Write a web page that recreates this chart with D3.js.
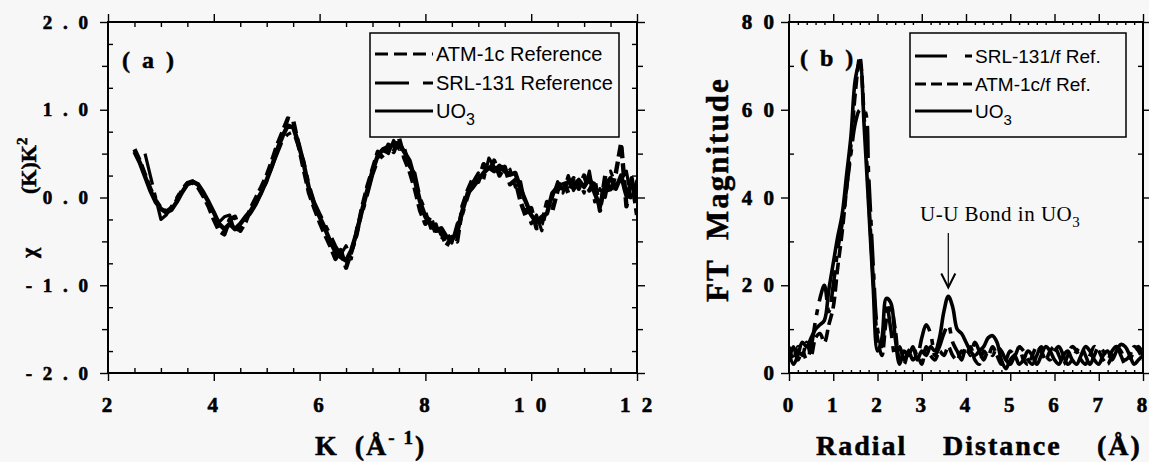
<!DOCTYPE html>
<html>
    <head>
        <title>EXAFS UO3</title>
        <meta charset="utf-8">
        <style>
            html, body {
                margin: 0px;
                padding: 0px;
                background-color: #f7f7f7;
            }

            svg {
                display: block;
            }

            .tick line {
                stroke: #000;
                stroke-width: 1.4;
            }

            .domain {
                stroke: none;
            }

            .legend text {
                font-family: "Liberation Sans", sans-serif;
                fill: #000;
            }

            .title {
                font-family: "Liberation Serif", serif;
                font-weight: bold;
                fill: #000;
                stroke: #000;
                stroke-width: 0.5px;
            }
        </style>
        <script src="https://cdn.jsdelivr.net/npm/d3@7"></script>
    </head>
    <body>
        <div id="main"></div>

        <script>
            // panel (a): chi(k)k^2
            var kGrid = [2.5,2.6,2.7,2.8,2.9,3.0,3.1,3.2,3.3,3.4,3.5,3.6,3.7,3.8,3.9,4.0,4.1,4.2,4.3,4.4,
                         4.5,4.6,4.7,4.8,4.9,5.0,5.1,5.2,5.3,5.4,5.5,5.6,5.7,5.8,5.9,6.0,6.1,6.2,6.3,6.4,
                         6.5,6.6,6.7,6.8,6.9,7.0,7.1,7.2,7.3,7.4,7.5,7.6,7.7,7.8,7.9,8.0,8.1,8.2,8.3,8.4,
                         8.5,8.6,8.7,8.8,8.9,9.0,9.1,9.2,9.3,9.4,9.5,9.6,9.7,9.8,9.9,10.0,10.1,10.2,10.3,10.4,
                         10.5,10.6,10.7,10.8,10.9,11.0,11.1,11.2,11.3,11.4,11.5,11.6,11.7,11.8,11.9,12.0];

            var uo3Chi = [0.52,0.40,0.24,0.08,-0.05,-0.13,-0.17,-0.14,-0.05,0.06,
                          0.15,0.18,0.15,0.06,-0.05,-0.17,-0.30,-0.36,-0.30,-0.36,
                          -0.30,-0.22,-0.15,-0.05,0.06,0.20,0.36,0.55,0.70,0.82,
                          0.80,0.62,0.38,0.10,-0.08,-0.22,-0.35,-0.50,-0.62,-0.68,
                          -0.72,-0.60,-0.40,-0.15,0.08,0.30,0.48,0.55,0.58,0.60,
                          0.62,0.52,0.42,0.20,-0.05,-0.22,-0.30,-0.38,-0.35,-0.45,
                          -0.48,-0.40,-0.15,0.05,0.12,0.20,0.28,0.34,0.30,0.36,
                          0.30,0.26,0.28,0.10,-0.05,-0.20,-0.28,-0.22,-0.18,0.05,
                          0.12,0.10,0.18,0.14,0.20,0.12,0.22,0.05,-0.10,0.15,
                          0.22,0.10,0.25,0.02,0.18,-0.05];

            var atmChi = [0.55,0.42,0.26,0.10,-0.03,-0.12,-0.16,-0.12,-0.03,0.08,
                          0.16,0.17,0.12,0.02,-0.10,-0.25,-0.38,-0.42,-0.25,-0.22,
                          -0.38,-0.28,-0.12,0.00,0.12,0.25,0.42,0.60,0.75,0.90,
                          0.88,0.60,0.32,0.05,-0.12,-0.28,-0.42,-0.55,-0.70,-0.60,
                          -0.80,-0.62,-0.42,-0.12,0.12,0.32,0.52,0.45,0.60,0.52,
                          0.68,0.45,0.30,0.10,-0.15,-0.30,-0.22,-0.42,-0.40,-0.55,
                          -0.45,-0.50,-0.10,0.08,0.22,0.18,0.38,0.30,0.42,0.25,
                          0.35,0.15,0.20,-0.05,-0.22,-0.12,-0.35,-0.30,-0.05,-0.15,
                          0.08,0.20,0.05,0.22,0.10,0.25,0.08,0.20,-0.15,0.25,
                          0.05,0.28,0.62,-0.10,0.22,-0.20];

            var srlChi = [null,null,0.50,0.25,0.00,-0.25,-0.20,-0.10,0.00,0.10,
                          0.17,0.19,0.14,0.04,-0.08,-0.20,-0.28,-0.22,-0.20,-0.40,
                          -0.32,-0.25,-0.18,-0.08,0.05,0.18,0.35,0.50,0.65,0.72,
                          0.75,0.58,0.42,0.15,-0.05,-0.18,-0.30,-0.42,-0.55,-0.65,
                          -0.55,-0.70,-0.35,-0.20,0.02,0.25,0.42,0.58,0.50,0.65,
                          0.55,0.58,0.35,0.28,0.00,-0.15,-0.35,-0.30,-0.48,-0.38,
                          -0.52,-0.30,-0.20,0.00,0.18,0.28,0.20,0.45,0.35,0.30,
                          0.38,0.32,0.12,0.18,-0.12,-0.30,-0.20,-0.38,-0.10,0.00,
                          0.18,0.05,0.25,0.08,0.18,0.05,0.30,-0.05,0.10,0.00,
                          0.30,0.15,0.20,0.30,-0.05,0.20];

            // panel (b): FT magnitude
            var rGrid = [0,0.1,0.2,0.3,0.4,0.5,0.6,0.7,0.8,0.9,1.0,1.1,1.2,1.3,1.4,1.5,1.6,1.7,1.8,1.9,
                         2.0,2.1,2.2,2.3,2.4,2.5,2.6,2.7,2.8,2.9,3.0,3.1,3.2,3.3,3.4,3.5,3.6,3.7,3.8,3.9,
                         4.0,4.1,4.2,4.3,4.4,4.5,4.6,4.7,4.8,4.9,5.0,5.1,5.2,5.3,5.4,5.5,5.6,5.7,5.8,5.9,
                         6.0,6.1,6.2,6.3,6.4,6.5,6.6,6.7,6.8,6.9,7.0,7.1,7.2,7.3,7.4,7.5,7.6,7.7,7.8,7.9,8.0];

            var uo3FT = [5,2,4,7,6,8,10,11,12,19,
                         25,31,36,45,54,67,71,56,38,20,
                         5,8,17,16,8,2,5,4,6,3,
                         5,4,6,5,8,14,17.5,15,10,9,
                         7,5,4,5,6,8,8.5,7,3,1,
                         3,4,2,3,5,4,2,4,6,5,
                         3,2,4,5,3,2,4,6,5,3,
                         2,4,5,3,5,6.5,6,4,2,3,
                         4];

            var atmFT = [6,3,6,4,7,4,8,9,7,11,
                         15,24,32,42,52,64,72,58,40,22,
                         8,4,12,15,10,3,2,5,3,4,
                         2,6,4,3,5,4,6,4,3,5,
                         4,6,3,2,5,4,6,4,2,3,
                         5,4,6,3,2,4,6,5,3,5,
                         6,4,2,4,6,5,3,2,4,6,
                         5,3,2,4,6,5,3,4,6,5,
                         3];

            var srlFT = [3,6,3,5,3,6,12,17,20,14,
                         20,28,34,42,50,57,60,60,45,25,
                         10,6,16,10,4,6,3,5,6,4,
                         8,11,9,4,6,9,11,7,5,3,
                         6,4,7,5,3,5,4,6,5,3,
                         2,4,6,5,3,2,4,6,4,3,
                         5,6,4,2,3,5,6,4,2,4,
                         6,5,3,5,6,4,2,3,5,6,
                         4];

            // ticks
            var kTicks = [2,4,6,8,10,12];
            var kTickLabels = ["2","4","6","8","1 0","1 2"];
            var kMinor = [2.5,3,3.5,4.5,5,5.5,6.5,7,7.5,8.5,9,9.5,10.5,11,11.5];
            var chiTicks = [-2,-1,0,1,2];
            var chiTickLabels = ["- 2 . 0","- 1 . 0","0 . 0","1 . 0","2 . 0"];
            var chiHalf = [-1.5,-0.5,0.5,1.5];
            var chiQuarter = [-1.75,-1.25,-0.75,-0.25,0.25,0.75,1.25,1.75];

            var rTicks = [0,1,2,3,4,5,6,7,8];
            var rTickLabels = ["0","1","2","3","4","5","6","7","8"];
            var rMinor = [0.2,0.4,0.6,0.8,1.2,1.4,1.6,1.8,2.2,2.4,2.6,2.8,3.2,3.4,3.6,3.8,
                          4.2,4.4,4.6,4.8,5.2,5.4,5.6,5.8,6.2,6.4,6.6,6.8,7.2,7.4,7.6,7.8];
            var ftTicks = [0,20,40,60,80];
            var ftTickLabels = ["0","2 0","4 0","6 0","8 0"];
            var ftMinor = [10,30,50,70];

            var legendA = ["ATM-1c Reference", "SRL-131 Reference", "UO"];
            var legendB = ["SRL-131/f  Ref.", "ATM-1c/f  Ref.", "UO"];

            var width = 1149;
            var height = 462;
            var dashAtm = "12,5";
            var dashSrl = "32,8,6,8";

            function addAxis(g, axis, x, y) {
                return g.append("g")
                    .attr("transform", "translate(" + x + "," + y + ")")
                    .call(axis);
            }

            function styleLabels(sel, size, spacing) {
                sel.selectAll("text")
                    .style("font-family", "'Liberation Serif', serif")
                    .style("font-weight", "bold")
                    .style("font-size", size)
                    .style("fill", "#000")
                    .style("stroke", "#000")
                    .style("stroke-width", "0.6px")
                    .attr("letter-spacing", spacing);
            }

            function frameAxes(svg, xs, ys, o) {
                var x0 = xs.range()[0], x1 = xs.range()[1];
                var y0 = ys.range()[0], y1 = ys.range()[1];

                // bottom
                var bx = addAxis(svg, d3.axisBottom(xs).tickValues(o.xTicks).tickSize(8).tickSizeOuter(0)
                    .tickPadding(16).tickFormat(function(d, i) { return o.xLabels[i]; }), 0, y0);
                styleLabels(bx, "21px", 3);
                addAxis(svg, d3.axisBottom(xs).tickValues(o.xMinor).tickSize(-o.xMinorLen).tickSizeOuter(0)
                    .tickFormat(""), 0, y0);
                // top
                addAxis(svg, d3.axisTop(xs).tickValues(o.xTicks).tickSize(8).tickSizeOuter(0)
                    .tickFormat(""), 0, y1);
                addAxis(svg, d3.axisTop(xs).tickValues(o.xMinor).tickSize(-o.xMinorLen).tickSizeOuter(0)
                    .tickFormat(""), 0, y1);
                // left
                var ly = addAxis(svg, d3.axisLeft(ys).tickValues(o.yTicks).tickSize(8).tickSizeOuter(0)
                    .tickPadding(o.yPad).tickFormat(function(d, i) { return o.yLabels[i]; }), x0, 0);
                styleLabels(ly, o.yFont, 3);
                if (o.yHalf) {
                    addAxis(svg, d3.axisLeft(ys).tickValues(o.yHalf).tickSize(6).tickSizeOuter(0)
                        .tickFormat(""), x0, 0);
                    addAxis(svg, d3.axisRight(ys).tickValues(o.yHalf).tickSize(6).tickSizeOuter(0)
                        .tickFormat(""), x1, 0);
                }
                addAxis(svg, d3.axisLeft(ys).tickValues(o.yMinor).tickSize(-5).tickSizeOuter(0)
                    .tickFormat(""), x0, 0);
                // right
                addAxis(svg, d3.axisRight(ys).tickValues(o.yTicks).tickSize(8).tickSizeOuter(0)
                    .tickFormat(""), x1, 0);
                addAxis(svg, d3.axisRight(ys).tickValues(o.yMinor).tickSize(-5).tickSizeOuter(0)
                    .tickFormat(""), x1, 0);

                svg.append("rect")
                    .attr("x", x0).attr("y", y1)
                    .attr("width", x1 - x0).attr("height", y0 - y1)
                    .attr("fill", "none")
                    .attr("stroke", "#000")
                    .attr("stroke-width", 2);
            }

            function drawSeries(g, grid, values, xs, ys, curve, dash, w) {
                var line = d3.line()
                    .defined(function(d) { return d != null; })
                    .curve(curve)
                    .x(function(d, i) { return xs(grid[i]); })
                    .y(function(d) { return ys(d); });
                g.append("path")
                    .datum(values)
                    .attr("fill", "none")
                    .attr("stroke", "#000")
                    .attr("stroke-width", w)
                    .attr("stroke-linejoin", "round")
                    .attr("stroke-dasharray", dash)
                    .attr("d", line);
            }

            function drawLegend(svg, box, labels, dashes, sampleX0, sampleX1, textX, rowsY, fontSize) {
                var g = svg.append("g").attr("class", "legend");
                g.append("rect")
                    .attr("x", box[0]).attr("y", box[1])
                    .attr("width", box[2]).attr("height", box[3])
                    .attr("fill", "#f7f7f7")
                    .attr("stroke", "#000")
                    .attr("stroke-width", 1.5);
                labels.forEach(function(lab, i) {
                    g.append("line")
                        .attr("x1", sampleX0).attr("x2", sampleX1)
                        .attr("y1", rowsY[i]).attr("y2", rowsY[i])
                        .attr("stroke", "#000")
                        .attr("stroke-width", 3.2)
                        .attr("stroke-dasharray", dashes[i]);
                    var t = g.append("text")
                        .attr("x", textX).attr("y", rowsY[i] + 7)
                        .style("font-size", fontSize + "px")
                        .text(lab);
                    if (lab == "UO") {
                        t.append("tspan").attr("dy", 7).style("font-size", (fontSize - 4) + "px").text("3");
                    }
                });
            }

            function main() {
                var svg = d3.select("#main")
                    .append("svg")
                    .attr("width", width)
                    .attr("height", height);

                svg.append("defs").append("clipPath").attr("id", "clipA")
                    .append("rect").attr("x", 108).attr("y", 22).attr("width", 529).attr("height", 351);
                svg.select("defs").append("clipPath").attr("id", "clipB")
                    .append("rect").attr("x", 789).attr("y", 22).attr("width", 354).attr("height", 351);

                // ---- panel (a)
                var xA = d3.scaleLinear().domain([2, 12]).range([108, 637]);
                var yA = d3.scaleLinear().domain([-2, 2]).range([373, 22]);

                var gA = svg.append("g").attr("clip-path", "url(#clipA)");
                drawSeries(gA, kGrid, srlChi, xA, yA, d3.curveLinear, dashSrl, 3.2);
                drawSeries(gA, kGrid, atmChi, xA, yA, d3.curveLinear, dashAtm, 4.4);
                drawSeries(gA, kGrid, uo3Chi, xA, yA, d3.curveLinear, null, 4.4);

                frameAxes(svg, xA, yA, {
                    xTicks: kTicks, xLabels: kTickLabels, xMinor: kMinor, xMinorLen: 5,
                    yTicks: chiTicks, yLabels: chiTickLabels, yHalf: chiHalf, yMinor: chiQuarter,
                    yPad: 9, yFont: "19px"
                });

                drawLegend(svg, [370, 33, 249, 104], legendA,
                    ["13,6", "34,14,6,0", null], 375, 433, 436, [54, 83, 111], 20);

                svg.append("text").attr("class", "title")
                    .attr("x", 122).attr("y", 68)
                    .style("font-size", "24px")
                    .attr("letter-spacing", 3)
                    .text("( a )");

                var xtA = svg.append("text").attr("class", "title")
                    .attr("x", 315).attr("y", 455)
                    .style("font-size", "28px")
                    .attr("letter-spacing", 2);
                xtA.append("tspan").text("K");
                xtA.append("tspan").attr("dx", 16).text("(Å");
                xtA.append("tspan").attr("dy", -11).style("font-size", "19px").text("- 1");
                xtA.append("tspan").attr("dy", 11).text(")");

                var ytA = svg.append("text").attr("class", "title")
                    .attr("transform", "translate(36,258) rotate(-90)")
                    .style("font-size", "22px");
                ytA.append("tspan").attr("x", 0).text("χ");
                ytA.append("tspan").attr("x", 64).text("(K)K");
                ytA.append("tspan").attr("dy", -9).style("font-size", "15px").text("2");

                // ---- panel (b)
                var xB = d3.scaleLinear().domain([0, 8]).range([789, 1143]);
                var yB = d3.scaleLinear().domain([0, 80]).range([373, 22]);

                var gB = svg.append("g").attr("clip-path", "url(#clipB)");
                drawSeries(gB, rGrid, srlFT, xB, yB, d3.curveCatmullRom, dashSrl, 3.6);
                drawSeries(gB, rGrid, atmFT, xB, yB, d3.curveCatmullRom, dashAtm, 3.6);
                drawSeries(gB, rGrid, uo3FT, xB, yB, d3.curveCatmullRom, null, 3.6);

                frameAxes(svg, xB, yB, {
                    xTicks: rTicks, xLabels: rTickLabels, xMinor: rMinor, xMinorLen: 3,
                    yTicks: ftTicks, yLabels: ftTickLabels, yHalf: null, yMinor: ftMinor,
                    yPad: 4, yFont: "21px"
                });

                drawLegend(svg, [910, 33, 216, 104], legendB,
                    ["32,18,6,0", "11,5", null], 915, 972, 975, [56, 84, 111], 19);

                svg.append("text").attr("class", "title")
                    .attr("x", 800).attr("y", 66)
                    .style("font-size", "24px")
                    .attr("letter-spacing", 3)
                    .text("( b )");

                var xtB = svg.append("text").attr("class", "title")
                    .attr("y", 455)
                    .style("font-size", "28px")
                    .attr("letter-spacing", 2);
                xtB.append("tspan").attr("x", 816).text("Radial");
                xtB.append("tspan").attr("x", 943).text("Distance");
                xtB.append("tspan").attr("x", 1097).text("(Å)");

                var ytB = svg.append("text").attr("class", "title")
                    .attr("transform", "translate(728,302) rotate(-90)")
                    .style("font-size", "31px")
                    .attr("letter-spacing", 2);
                ytB.append("tspan").attr("x", 0).text("FT");
                ytB.append("tspan").attr("x", 62).text("Magnitude");

                // U-U annotation
                var ann = svg.append("text")
                    .attr("x", 920).attr("y", 221)
                    .style("font-family", "'Liberation Serif', serif")
                    .style("font-size", "21px")
                    .attr("letter-spacing", 0.5)
                    .text("U-U Bond in UO");
                ann.append("tspan").attr("dy", 6).style("font-size", "15px").text("3");

                var ax = xB(3.6);
                svg.append("line")
                    .attr("x1", ax).attr("x2", ax)
                    .attr("y1", 233).attr("y2", yB(19.5))
                    .attr("stroke", "#000").attr("stroke-width", 1.2);
                svg.append("path")
                    .attr("d", "M" + (ax - 7) + "," + (yB(19.5) - 14) + "L" + ax + "," + yB(19.5) +
                        "L" + (ax + 7) + "," + (yB(19.5) - 14))
                    .attr("fill", "none").attr("stroke", "#000").attr("stroke-width", 2);
            }

            main();
        </script>
    </body>
</html>
